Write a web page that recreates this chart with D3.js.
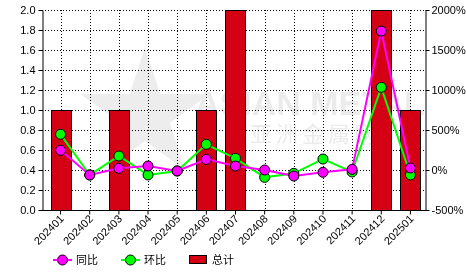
<!doctype html>
<html lang="zh">
<head>
<meta charset="utf-8">
<title>chart</title>
<script src="https://d3js.org/d3.v7.min.js"></script>
<style>
  body { margin: 0; background: #fff; }
  svg text { font-family: "Liberation Sans", Arial, "Noto Sans CJK SC", sans-serif; font-size: 11px; fill: #000; }
  .grid line { stroke: #000; stroke-dasharray: 1 2; stroke-width: 1; }
</style>
</head>
<body>
<div id="chart"></div>
<script>
const months = ['202401','202402','202403','202404','202405','202406','202407','202408','202409','202410','202411','202412','202501'];
const total = [1, 0, 1, 0, 0, 1, 2, 0, 0, 0, 0, 2, 1];
const yoy = [246, -62, 21, 50, -12, 133, 50, 0, -75, -29, 8, 1737, 25];   // 同比 %
const mom = [446, -62, 175, -62, -12, 321, 146, -92, -42, 137, -25, 1033, -62]; // 环比 %
const leftTicks = [0, 0.2, 0.4, 0.6, 0.8, 1.0, 1.2, 1.4, 1.6, 1.8, 2.0];
const rightTicks = [-500, 0, 500, 1000, 1500, 2000];

const W = 466, H = 272;
const plotL = 42, plotR = 425, plotT = 10, plotB = 210;

const svg = d3.select('#chart').append('svg')
  .attr('width', W).attr('height', H);

const x = d3.scaleBand().domain(months).range([46, plotR]).padding(0);
const y = d3.scaleLinear().domain([0, 2]).range([plotB, plotT]);
const y2 = d3.scaleLinear().domain([-500, 2000]).range([plotB, plotT]);
const cx = d => x(d) + x.bandwidth() / 2;

// watermark
const wm = svg.append('g').attr('opacity', 0.12);
wm.append('path')
  .attr('d', d3.symbol(d3.symbolStar, 5200)())
  .attr('transform', 'translate(145,115)')
  .attr('fill', '#666');
wm.append('text').attr('x', 195).attr('y', 115)
  .style('font-size', '34px').style('font-weight', 'bold').style('fill', '#555')
  .text('ASIAN METAL');
wm.append('text').attr('x', 250).attr('y', 142)
  .style('font-size', '22px').style('fill', '#555').style('letter-spacing', '4px')
  .text('亚洲金属网');

// grid
const grid = svg.append('g').attr('class', 'grid');
grid.selectAll('.h').data(leftTicks.slice(1)).join('line')
  .attr('x1', plotL).attr('x2', plotR)
  .attr('y1', d => Math.round(y(d)) + 0.5).attr('y2', d => Math.round(y(d)) + 0.5);
grid.selectAll('.v').data(months).join('line')
  .attr('x1', d => Math.round(cx(d)) + 0.5).attr('x2', d => Math.round(cx(d)) + 0.5)
  .attr('y1', plotT).attr('y2', plotB);

// bars
svg.append('g').selectAll('rect')
  .data(months.map((m, i) => ({ m, v: total[i] })).filter(d => d.v > 0))
  .join('rect')
  .attr('x', d => Math.round(cx(d.m) - 10) + 0.5)
  .attr('width', 20)
  .attr('y', d => Math.round(y(d.v)) + 0.5)
  .attr('height', d => Math.round(plotB - y(d.v)))
  .attr('fill', '#d40013')
  .attr('stroke', '#000').attr('stroke-width', 1);

// axes
const axL = svg.append('g').attr('transform', `translate(${plotL + 0.5},0)`)
  .call(d3.axisLeft(y).tickValues(leftTicks).tickFormat(d3.format('.1f')).tickSize(4).tickSizeOuter(0));
const axR = svg.append('g').attr('transform', `translate(${plotR + 0.5},0)`)
  .call(d3.axisRight(y2).tickValues(rightTicks).tickFormat(d => d + '%').tickSize(4).tickSizeOuter(0));
const axB = svg.append('g').attr('transform', `translate(0,${plotB + 0.5})`)
  .call(d3.axisBottom(x).tickSize(4).tickSizeOuter(0));
axB.select('.domain').attr('d', `M${plotL},0H${plotR + 1}`);
[axL, axR, axB].forEach(a => {
  a.select('.domain').attr('stroke', '#000');
  a.selectAll('.tick line').attr('stroke', '#000');
  a.selectAll('text').attr('fill', '#000').style('font-size', '11px');
});
axL.selectAll('text').attr('x', -7);
axR.selectAll('text').attr('x', 6);
axB.selectAll('text')
  .attr('text-anchor', 'end')
  .attr('dy', 0).attr('y', 0)
  .attr('transform', 'translate(4,9) rotate(-45)');

// lines
const line = vals => d3.line().x((d, i) => cx(months[i])).y(d => y2(d))(vals);
const series = [
  { name: '环比', vals: mom, color: '#00ff00' },
  { name: '同比', vals: yoy, color: '#ff00ff' }
];
series.forEach(s => {
  svg.append('path').attr('d', line(s.vals))
    .attr('fill', 'none').attr('stroke', s.color).attr('stroke-width', 2);
});
series.forEach(s => {
  svg.append('g').selectAll('circle').data(s.vals).join('circle')
    .attr('cx', (d, i) => cx(months[i])).attr('cy', d => y2(d)).attr('r', 5)
    .attr('fill', s.color).attr('stroke', '#000').attr('stroke-width', 1);
});

// legend
const lg = svg.append('g');
const legendItems = [
  { name: '同比', color: '#ff00ff', x: 53 },
  { name: '环比', color: '#00ff00', x: 121 }
];
legendItems.forEach(it => {
  lg.append('line').attr('x1', it.x).attr('x2', it.x + 19).attr('y1', 260).attr('y2', 260)
    .attr('stroke', it.color).attr('stroke-width', 2);
  lg.append('circle').attr('cx', it.x + 9.5).attr('cy', 260).attr('r', 5)
    .attr('fill', it.color).attr('stroke', '#000');
  lg.append('text').attr('x', it.x + 23).attr('y', 264).text(it.name);
});
lg.append('rect').attr('x', 189.5).attr('y', 255.5).attr('width', 17).attr('height', 8)
  .attr('fill', '#d40013').attr('stroke', '#000');
lg.append('text').attr('x', 212).attr('y', 264).text('总计');
</script>
</body>
</html>
